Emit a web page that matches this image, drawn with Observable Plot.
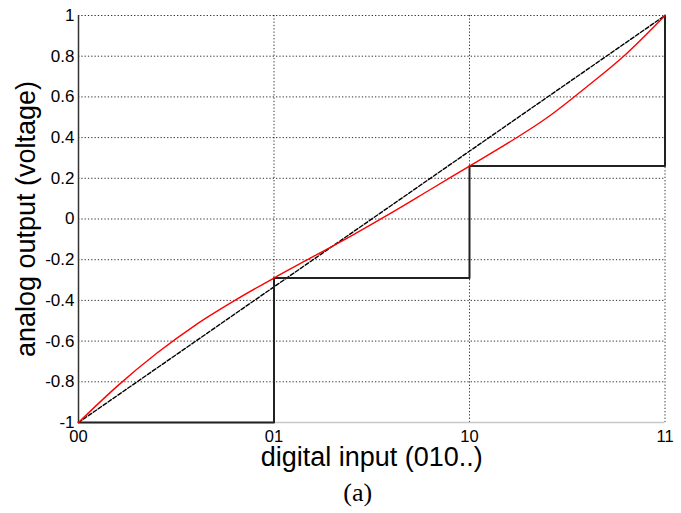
<!DOCTYPE html>
<html>
<head>
<meta charset="utf-8">
<script src="https://cdn.jsdelivr.net/npm/d3@7"></script>
<script src="https://cdn.jsdelivr.net/npm/@observablehq/plot@0.6"></script>
<style>
  html, body { margin: 0; padding: 0; background: #fff; }
  #chart svg { display: block; }
</style>
</head>
<body>
<div id="chart"></div>
<script>
// Digital codes (x positions) and their tick labels
const codes = [0, 1, 2, 3];
const codeLabels = ["00", "01", "10", "11"];

// Quantized DAC output levels (staircase)
const stepLevels = [-1, -0.29, 0.26, 1];

// Ideal linear transfer (dashed)
const idealX = [0, 3];
const idealY = [-1, 1];

const redX = [0, 0.2, 0.4, 0.6, 0.8, 1.0, 1.2, 1.4, 1.6, 1.8, 2.0, 2.2, 2.4, 2.6, 2.8, 3.0];
const redY = [-1, -0.82, -0.66, -0.52, -0.40, -0.29, -0.185, -0.08, 0.03, 0.145, 0.26, 0.375, 0.50, 0.65, 0.81, 1.0];

// Y ticks and labels
const yTicks = [-1, -0.8, -0.6, -0.4, -0.2, 0, 0.2, 0.4, 0.6, 0.8, 1];
const yTickLabels = ["-1", "-0.8", "-0.6", "-0.4", "-0.2", "0", "0.2", "0.4", "0.6", "0.8", "1"];

const xTitle = "digital input (010..)";
const yTitle = "analog output (voltage)";
const caption = "(a)";

const stepData = codes.map((c, i) => ({x: c, y: stepLevels[i]}));
const idealData = idealX.map((x, i) => ({x, y: idealY[i]}));
const redData = redX.map((x, i) => ({x, y: redY[i]}));

const font = "'Liberation Sans', Arial, Helvetica, sans-serif";
const gridStyle = {stroke: "#000", strokeOpacity: 0.8, strokeWidth: 1, strokeDasharray: "1.3,2"};

const chart = Plot.plot({
  width: 681,
  height: 513,
  marginLeft: 78,
  marginRight: 16.5,
  marginTop: 15,
  marginBottom: 91,
  style: {fontFamily: font, background: "#fff", color: "#000"},
  x: {domain: [0, 3], axis: null},
  y: {domain: [-1, 1], axis: null},
  marks: [
    // grid
    Plot.gridY(yTicks.filter(v => v > -1), gridStyle),
    Plot.gridX(codes.filter(v => v > 0), gridStyle),
    // frame lines
    Plot.ruleY([-1], {stroke: "#c8c8c8", strokeWidth: 1.5}),
    Plot.ruleX([0], {stroke: "#333", strokeWidth: 1.5}),
    // tick labels
    Plot.text(codes, {
      x: d => d, y: () => -1, text: (d, i) => codeLabels[i],
      lineAnchor: "top", dy: 8, fontSize: 16.5, fill: "#000"
    }),
    Plot.text(yTicks, {
      x: () => 0, y: d => d, text: (d, i) => yTickLabels[i],
      textAnchor: "end", lineAnchor: "middle", dx: -4, fontSize: 17, fill: "#000"
    }),
    // ideal dashed line
    Plot.line(idealData, {x: "x", y: "y", stroke: "#000", strokeWidth: 1.4, strokeDasharray: "4,2"}),
    // staircase
    Plot.line(stepData, {x: "x", y: "y", curve: "step-after", stroke: "#222", strokeWidth: 2}),
    // actual output
    Plot.line(redData, {x: "x", y: "y", curve: "monotone-x", stroke: "#ff0000", strokeWidth: 1.4}),
    // titles
    Plot.text([xTitle], {frameAnchor: "bottom", dy: 35, lineAnchor: "middle", fontSize: 27, fill: "#000"}),
    Plot.text([yTitle], {frameAnchor: "left", dx: -52, rotate: -90, textAnchor: "middle", lineAnchor: "middle", fontSize: 27, fill: "#000"}),
    Plot.text([caption], {frameAnchor: "bottom", dx: -14, dy: 70, lineAnchor: "middle", fontSize: 26, fill: "#000",
      fontFamily: "'Liberation Serif', 'Times New Roman', serif"})
  ]
});

document.getElementById("chart").appendChild(chart);
</script>
</body>
</html>
